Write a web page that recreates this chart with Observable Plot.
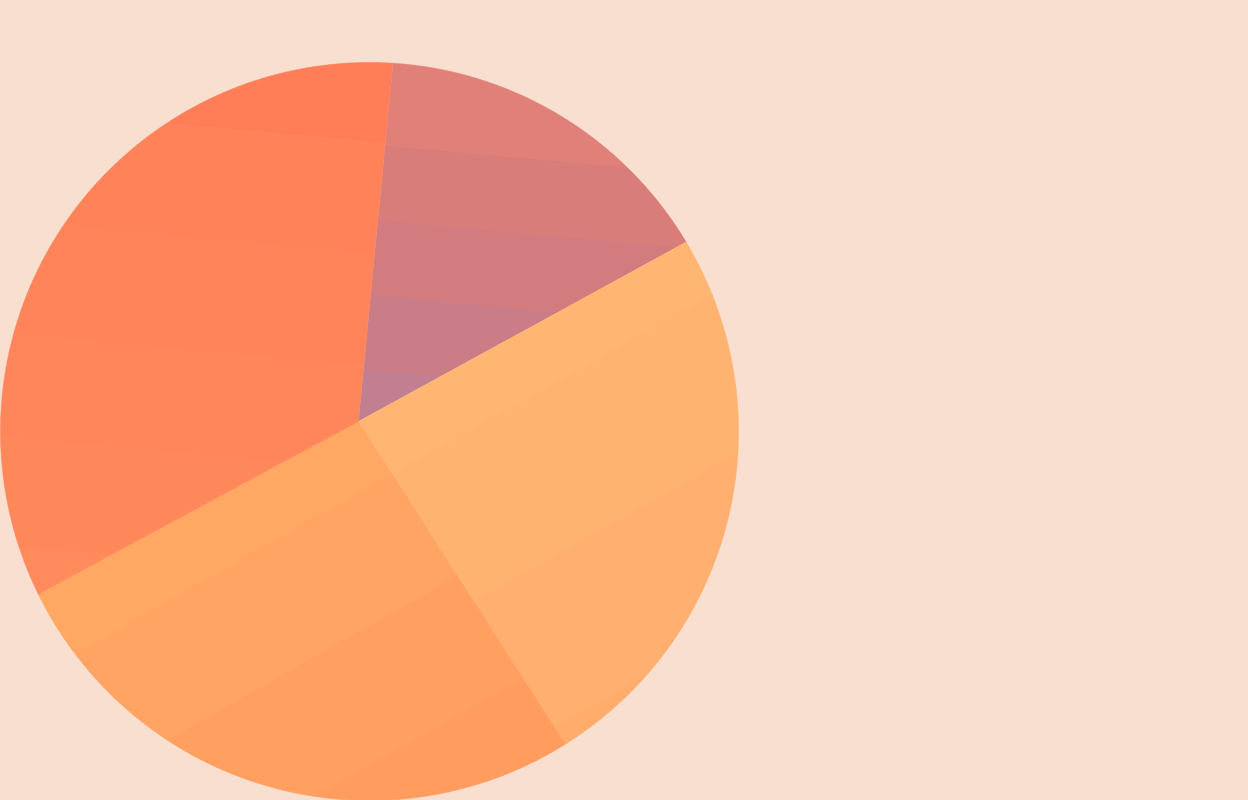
<!DOCTYPE html>
<html><head><meta charset="utf-8">
<script src="https://cdn.jsdelivr.net/npm/d3@7"></script>
<script src="https://cdn.jsdelivr.net/npm/@observablehq/plot@0.6"></script>
<style>html,body{margin:0;padding:0;background:#f9dfd0;overflow:hidden}</style>
</head><body><div id="chart"></div>
<script>
// Data
const categories = ["A", "B", "C", "D"];
const values = [15.5, 23.9, 26.2, 34.4];
const startAngle = 5.5;               // degrees clockwise from north
const apex = [-0.0298, 0.0271];        // pie apex, in units of the radius

// Styles: banded linear gradient per slice (direction in screen space, band edges in px from apex)
const gradients = [
  {dir: [-0.0897, 0.996], t0: -360, t1: 5, edges: [-277, -202, -127, -52],
   colors: ["#e08078", "#d97d7a", "#d37c7f", "#cb7d87", "#c27f92"]},
  {dir: [0.488, 0.873], t0: -15, t1: 395, edges: [62, 213, 362],
   colors: ["#ffb672", "#ffb371", "#ffaf6f", "#ffac6d"]},
  {dir: [0.494, 0.869], t0: -15, t1: 390, edges: [62, 183, 304],
   colors: ["#ffa864", "#ffa462", "#ffa060", "#ff9c5e"]},
  {dir: [-0.0897, 0.996], t0: -362, t1: 210, edges: [-280, -168, -56, 47, 155],
   colors: ["#ff7e58", "#ff8259", "#ff845a", "#ff865a", "#ff885b", "#ff8a5c"]}
];

// Wedge outlines computed from the values (rays from the apex to the unit circle)
const total = d3.sum(values);
let acc = startAngle;
const wedges = categories.map((c, i) => {
  const a0 = acc, a1 = acc + values[i] / total * 360; acc = a1;
  const pts = [{c, x: apex[0], y: apex[1]}];
  const n = Math.ceil((a1 - a0) / 0.25);
  for (let k = 0; k <= n; k++) {
    const a = (a0 + (a1 - a0) * k / n) * Math.PI / 180;
    const dx = Math.sin(a), dy = Math.cos(a);
    const b = apex[0] * dx + apex[1] * dy;
    const cc = apex[0] ** 2 + apex[1] ** 2 - 1;
    const t = -b + Math.sqrt(b * b - cc);
    pts.push({c, x: apex[0] + t * dx, y: apex[1] + t * dy});
  }
  return pts;
});

const plot = Plot.plot({
  width: 1248, height: 800,
  marginLeft: 0, marginRight: 510, marginTop: 62, marginBottom: 0,
  x: {domain: [-1, 1], axis: null},
  y: {domain: [-1, 1], axis: null},
  style: {background: "#f9dfd0", overflow: "visible"},
  marks: wedges.map((pts, i) => Plot.line(pts, {
    x: "x", y: "y", fill: `url(#g${i})`, stroke: `url(#g${i})`, strokeWidth: 0.6, curve: "linear"
  }))
});

const sx = plot.scale("x"), sy = plot.scale("y");
const ax = sx.apply(apex[0]), ay = sy.apply(apex[1]);
const defs = d3.select(plot).insert("defs", ":first-child");
gradients.forEach((g, i) => {
  const lg = defs.append("linearGradient").attr("id", `g${i}`).attr("gradientUnits", "userSpaceOnUse")
    .attr("x1", ax + g.dir[0] * g.t0).attr("y1", ay + g.dir[1] * g.t0)
    .attr("x2", ax + g.dir[0] * g.t1).attr("y2", ay + g.dir[1] * g.t1);
  const bounds = [g.t0, ...g.edges, g.t1];
  g.colors.forEach((col, j) => {
    const o0 = (bounds[j] - g.t0) / (g.t1 - g.t0), o1 = (bounds[j + 1] - g.t0) / (g.t1 - g.t0);
    lg.append("stop").attr("offset", o0).attr("stop-color", col);
    lg.append("stop").attr("offset", o1).attr("stop-color", col);
  });
});

document.getElementById("chart").append(plot);
</script>
</body></html>
